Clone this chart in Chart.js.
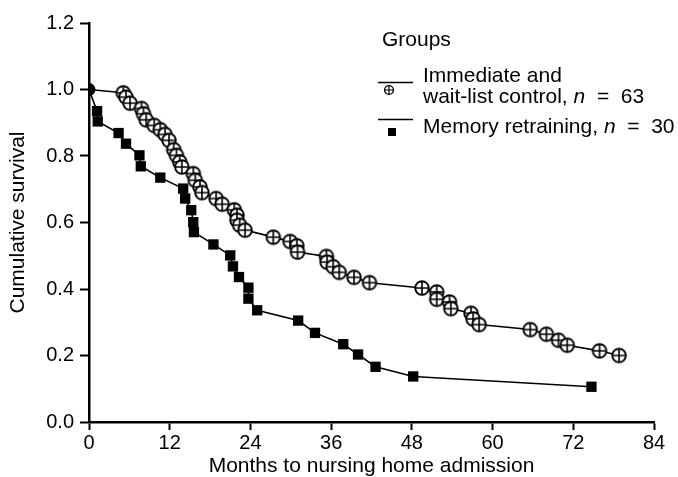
<!DOCTYPE html>
<html lang="en">
<head>
    <meta charset="UTF-8">
    <title>Cumulative survival</title>
    <script src="https://cdn.jsdelivr.net/npm/chart.js"></script>
    <style>
        body { margin: 0; background: #fff; }
    </style>
</head>
<body>
    <canvas id="survivalChart" width="678" height="477"></canvas>

    <script>
        // Immediate and wait-list control, n = 63
        const immediateMonths = [0, 5.1, 5.5, 6.1, 7.8, 8.1, 8.5, 9.7, 10.6, 11.3, 11.9, 12.6, 13.0, 13.5, 13.8,
            15.5, 15.8, 16.5, 16.8, 18.9, 19.8, 21.6, 22.0, 22.0, 22.4, 23.2, 27.4, 29.9, 30.9, 31.0,
            35.3, 35.4, 36.3, 37.2, 39.4, 41.7, 49.5, 51.7, 51.7, 53.6, 53.8, 56.8, 57.1, 58.0, 65.6,
            68.0, 69.8, 71.1, 75.9, 78.8];
        const immediateSurvival = [1.0, 0.99, 0.977, 0.959, 0.943, 0.927, 0.909, 0.892, 0.879, 0.865, 0.847, 0.819, 0.802, 0.782, 0.767,
            0.747, 0.727, 0.707, 0.69, 0.672, 0.655, 0.638, 0.622, 0.607, 0.592, 0.577, 0.556, 0.543, 0.53, 0.511,
            0.498, 0.481, 0.467, 0.45, 0.435, 0.419, 0.403, 0.391, 0.369, 0.361, 0.341, 0.327, 0.31, 0.293, 0.278,
            0.264, 0.246, 0.231, 0.214, 0.2];

        // Memory retraining, n = 30
        const memoryMonths = [0, 1.2, 1.3, 4.4, 5.5, 7.5, 7.7, 10.6, 14.0, 14.3, 15.2, 15.5, 15.6, 18.5, 21.0,
            21.4, 22.3, 23.7, 23.7, 25.0, 31.1, 33.6, 37.8, 40.0, 42.6, 48.2, 74.7];
        const memorySurvival = [1.0, 0.935, 0.904, 0.869, 0.837, 0.802, 0.769, 0.735, 0.702, 0.672, 0.637, 0.601, 0.571, 0.534, 0.501,
            0.468, 0.436, 0.404, 0.371, 0.336, 0.305, 0.268, 0.234, 0.203, 0.166, 0.137, 0.106];

        const xTicks = [0, 12, 24, 36, 48, 60, 72, 84];
        const yTicks = [0, 0.2, 0.4, 0.6, 0.8, 1.0, 1.2];

        const FONT = '"Liberation Sans", Arial, Helvetica, sans-serif';

        // circle with a plus inside, used as point marker
        function makeCircleCross(size, r, lw) {
            const c = document.createElement('canvas');
            c.width = size;
            c.height = size;
            const g = c.getContext('2d');
            const m = size / 2;
            g.fillStyle = '#fff';
            g.strokeStyle = '#000';
            g.lineWidth = lw;
            g.beginPath();
            g.arc(m, m, r, 0, Math.PI * 2);
            g.fill();
            g.stroke();
            g.lineWidth = lw * 0.85;
            g.beginPath();
            g.moveTo(m - r, m); g.lineTo(m + r, m);
            g.moveTo(m, m - r); g.lineTo(m, m + r);
            g.stroke();
            return c;
        }
        const circleCross = makeCircleCross(18, 6.8, 1.9);
        const smallCircleCross = makeCircleCross(12, 4.4, 1.4);

        const toPoints = (xs, ys) => xs.map((x, i) => ({ x: x, y: ys[i] }));

        // legend drawn by hand, like the original figure
        const legendPlugin = {
            id: 'groupsLegend',
            afterDraw(chart) {
                const ctx = chart.ctx;
                ctx.save();
                ctx.fillStyle = '#000';
                ctx.strokeStyle = '#000';
                ctx.textBaseline = 'middle';
                ctx.textAlign = 'left';
                ctx.font = '21px ' + FONT;
                ctx.fillText('Groups', 382, 40);

                ctx.lineWidth = 1.5;
                ctx.beginPath();
                ctx.moveTo(378, 82.5); ctx.lineTo(413, 82.5);
                ctx.moveTo(378, 119.5); ctx.lineTo(413, 119.5);
                ctx.stroke();
                ctx.drawImage(smallCircleCross, 389 - 6, 90 - 6);
                ctx.fillRect(388, 128, 8, 8);

                ctx.fillText('Immediate and', 423, 76);
                const rows = [
                    [['wait-list control, ', false], ['n', true], ['  =  63', false], 97],
                    [['Memory retraining, ', false], ['n', true], ['  =  30', false], 127]
                ];
                rows.forEach(row => {
                    let x = 423;
                    row.slice(0, 3).forEach(p => {
                        ctx.font = (p[1] ? 'italic ' : '') + '21px ' + FONT;
                        ctx.fillText(p[0], x, row[3]);
                        x += ctx.measureText(p[0]).width;
                    });
                });
                ctx.restore();
            }
        };

        new Chart(document.getElementById('survivalChart'), {
            type: 'line',
            data: {
                datasets: [{
                    label: 'Memory retraining, n = 30',
                    data: toPoints(memoryMonths, memorySurvival),
                    borderColor: '#000',
                    borderWidth: 1.6,
                    backgroundColor: '#000',
                    pointStyle: 'rect',
                    pointRadius: ctx => ctx.dataIndex === 0 ? 0 : 7.3,
                    pointBorderWidth: 0,
                    fill: false,
                    tension: 0
                }, {
                    label: 'Immediate and wait-list control, n = 63',
                    data: toPoints(immediateMonths, immediateSurvival),
                    borderColor: '#000',
                    borderWidth: 1.6,
                    backgroundColor: '#000',
                    pointStyle: ctx => ctx.dataIndex === 0 ? 'circle' : circleCross,
                    pointRadius: ctx => ctx.dataIndex === 0 ? 6.5 : 9,
                    pointBorderWidth: 0,
                    fill: false,
                    tension: 0
                }]
            },
            options: {
                responsive: false,
                animation: false,
                layout: { padding: { top: 23, right: 24, left: 0, bottom: 0 } },
                plugins: {
                    legend: { display: false },
                    tooltip: { enabled: false }
                },
                scales: {
                    x: {
                        type: 'linear',
                        min: 0,
                        max: 84,
                        afterBuildTicks: axis => { axis.ticks = xTicks.map(v => ({ value: v })); },
                        afterFit: axis => { axis.height = 55; },
                        grid: { drawOnChartArea: false, drawTicks: true, tickLength: 8, tickWidth: 2, color: '#000' },
                        border: { display: true, color: '#000', width: 2.5 },
                        ticks: { color: '#000', padding: 1, maxRotation: 0, font: { family: FONT, size: 20 } },
                        title: {
                            display: true,
                            text: 'Months to nursing home admission',
                            color: '#000',
                            padding: { top: 0, bottom: 0 },
                            font: { family: FONT, size: 21, lineHeight: 1.0 }
                        }
                    },
                    y: {
                        min: 0,
                        max: 1.2,
                        afterBuildTicks: axis => { axis.ticks = yTicks.map(v => ({ value: v })); },
                        afterFit: axis => { axis.width = 89; },
                        grid: { drawOnChartArea: false, drawTicks: true, tickLength: 9, tickWidth: 2, color: '#000' },
                        border: { display: true, color: '#000', width: 2.5 },
                        ticks: {
                            color: '#000',
                            padding: 6,
                            font: { family: FONT, size: 20 },
                            callback: v => v.toFixed(1)
                        },
                        title: {
                            display: true,
                            text: 'Cumulative survival',
                            color: '#000',
                            padding: { top: 8, bottom: 0 },
                            font: { family: FONT, size: 21, lineHeight: 1.0 }
                        }
                    }
                }
            },
            plugins: [legendPlugin]
        });
    </script>
</body>
</html>
